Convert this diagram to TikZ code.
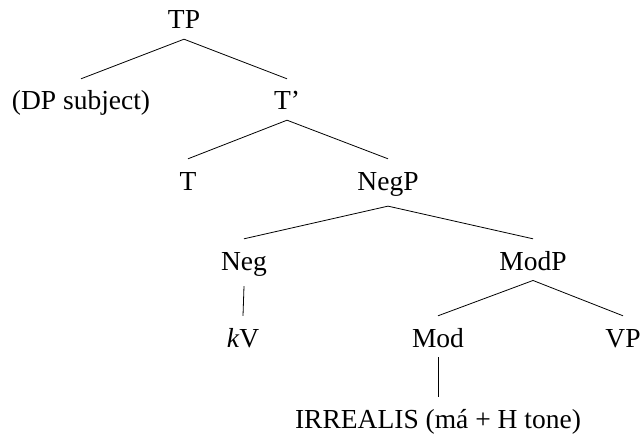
\documentclass[tikz,border=0pt]{standalone}
\usepackage{fontspec}
\setmainfont{Liberation Serif}
\begin{document}
\begin{tikzpicture}[x=1pt,y=-1pt,
  lbl/.style={anchor=base,inner xsep=2pt,inner ysep=10pt,text height=21pt,font=\fontsize{27.5pt}{32pt}\selectfont},
  edge/.style={line width=0.8pt}]
\useasboundingbox (0,0) rectangle (644,433);
\node[lbl] (TP) at (184,29) {TP};
\node[lbl] (DP) at (81,110) {(DP subject)};
\node[lbl] (Tbar) at (287,110) {T’};
\node[lbl] (T) at (188,190) {T};
\node[lbl] (NegP) at (388,190) {NegP};
\node[lbl] (Neg) at (244,270) {Neg};
\node[lbl] (ModP) at (533,270) {ModP};
\node[lbl] (kV) at (243,347) {\textit{k}V};
\node[lbl] (Mod) at (438,347) {Mod};
\node[lbl] (VP) at (623,347) {VP};
\node[lbl] (IRR) at (438,428) {IRREALIS (má + H tone)};
\draw[edge] (TP.south) -- (DP.north);
\draw[edge] (TP.south) -- (Tbar.north);
\draw[edge] (Tbar.south) -- (T.north);
\draw[edge] (Tbar.south) -- (NegP.north);
\draw[edge] (NegP.south) -- (Neg.north);
\draw[edge] (NegP.south) -- (ModP.north);
\draw[edge] (Neg.south) -- (kV.north);
\draw[edge] (ModP.south) -- (Mod.north);
\draw[edge] (ModP.south) -- (VP.north);
\draw[edge] (Mod.south) -- (IRR.north);
\end{tikzpicture}
\end{document}
